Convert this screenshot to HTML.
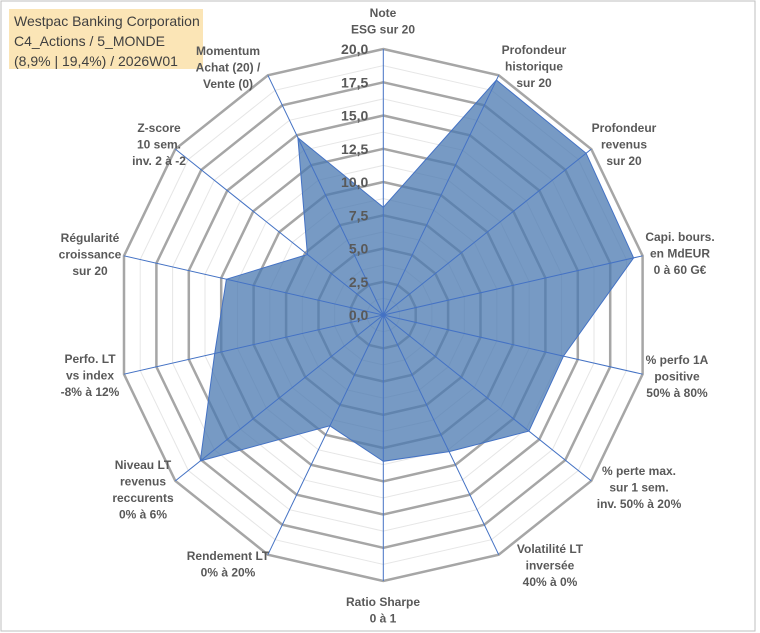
<!DOCTYPE html>
<html><head><meta charset="utf-8"><style>
body{margin:0;background:#fff}
#wrap{position:relative;width:760px;height:633px;overflow:hidden;background:#fff}
svg text{font-family:"Liberation Sans",Arial,sans-serif}
</style></head><body>
<div id="wrap">
<svg id="chart" width="760" height="633">
<rect x="1" y="1" width="754" height="630" fill="#fff" stroke="#bfbfbf" stroke-width="1"/>
<rect x="9" y="9" width="194" height="60" fill="#fbe5b6"/>
<g font-size="14" fill="#404040">
<text x="14" y="26">Westpac Banking Corporation</text>
<text x="14" y="46">C4_Actions / 5_MONDE</text>
<text x="14" y="66">(8,9% | 19,4%) / 2026W01</text>
</g>
<g id="grid"></g><g id="series"></g><g id="axes"></g><g id="ticks"></g><g id="labels"></g>
</svg>
</div>
<script>
const categories=[["Note","ESG sur 20"],["Profondeur","historique","sur 20"],["Profondeur","revenus","sur 20"],["Capi. bours.","en MdEUR","0 à 60 G€"],["% perfo 1A","positive","50% à 80%"],["% perte max.","sur 1 sem.","inv. 50% à 20%"],["Volatilité LT","inversée","40% à 0%"],["Ratio Sharpe","0 à 1"],["Rendement LT","0% à 20%"],["Niveau LT","revenus","reccurents","0% à 6%"],["Perfo. LT","vs index","-8% à 12%"],["Régularité","croissance","sur 20"],["Z-score","10 sem.","inv. 2 à -2"],["Momentum","Achat (20) /","Vente (0)"]];
const values=[8.1,19.6,19.5,19.3,13.9,14,11.4,11,9.25,17.6,13,12.1,7.3,14.8];
const tickLabels=["0,0","2,5","5,0","7,5","10,0","12,5","15,0","17,5","20,0"];
const tickValues=[0,2.5,5,7.5,10,12.5,15,17.5,20];
const maxV=20;
const cx=383.3,cy=315,R=266;
const labelPos=[[383,13],[534,50],[624,128],[680,237],[677,360],[639,471],[550,549],[383,602],[228,556],[143,465],[90,359],[90,238],[159,128],[228,51]];
const NS="http://www.w3.org/2000/svg";
const n=categories.length;
function ang(i){return i*2*Math.PI/n;}
function px(i,v){return cx+R*(v/maxV)*Math.sin(ang(i));}
function py(i,v){return cy-R*(v/maxV)*Math.cos(ang(i));}
function mk(tag,attrs,parent){const e=document.createElementNS(NS,tag);for(const k in attrs)e.setAttribute(k,attrs[k]);parent.appendChild(e);return e;}
const grid=document.getElementById('grid');
for(let s=1;s<=16;s++){
  const v=s*1.25;let pts=[];
  for(let i=0;i<n;i++)pts.push(px(i,v).toFixed(1)+","+py(i,v).toFixed(1));
  const major=s%2===0;
  const p=mk('polygon',{points:pts.join(' '),fill:'none',stroke:major?'#a6a6a6':'#e6e6e6','stroke-width':major?2.5:1},grid);
  
  
}
const ser=document.getElementById('series');
let sp=[];
for(let i=0;i<n;i++)sp.push(px(i,values[i]).toFixed(1)+","+py(i,values[i]).toFixed(1));
const poly=mk('polygon',{points:sp.join(' '),fill:'#4a78b0','fill-opacity':0.75,stroke:'#4472c4','stroke-width':1},ser);


const axes=document.getElementById('axes');
for(let i=0;i<n;i++){
  const l=mk('line',{x1:cx,y1:cy,x2:px(i,maxV),y2:py(i,maxV),stroke:'#4472c4','stroke-width':1},axes);
  
  
}
const ticks=document.getElementById('ticks');
tickValues.forEach((v,k)=>{
  const t=mk('text',{x:cx-15,y:cy-R*v/maxV+5,'text-anchor':'end','font-size':14,'font-weight':'bold',fill:'#595959'},ticks);
  t.textContent=tickLabels[k];
  
  
});
const labels=document.getElementById('labels');
categories.forEach((c,i)=>{
  const t=mk('text',{x:labelPos[i][0],y:labelPos[i][1]+4,'text-anchor':'middle','font-size':12,'font-weight':'bold',fill:'#595959'},labels);
  
  
  c.forEach((line,j)=>{const ts=mk('tspan',{x:labelPos[i][0],dy:j===0?0:16.5},t);ts.textContent=line;});
});
</script>
</body></html>
